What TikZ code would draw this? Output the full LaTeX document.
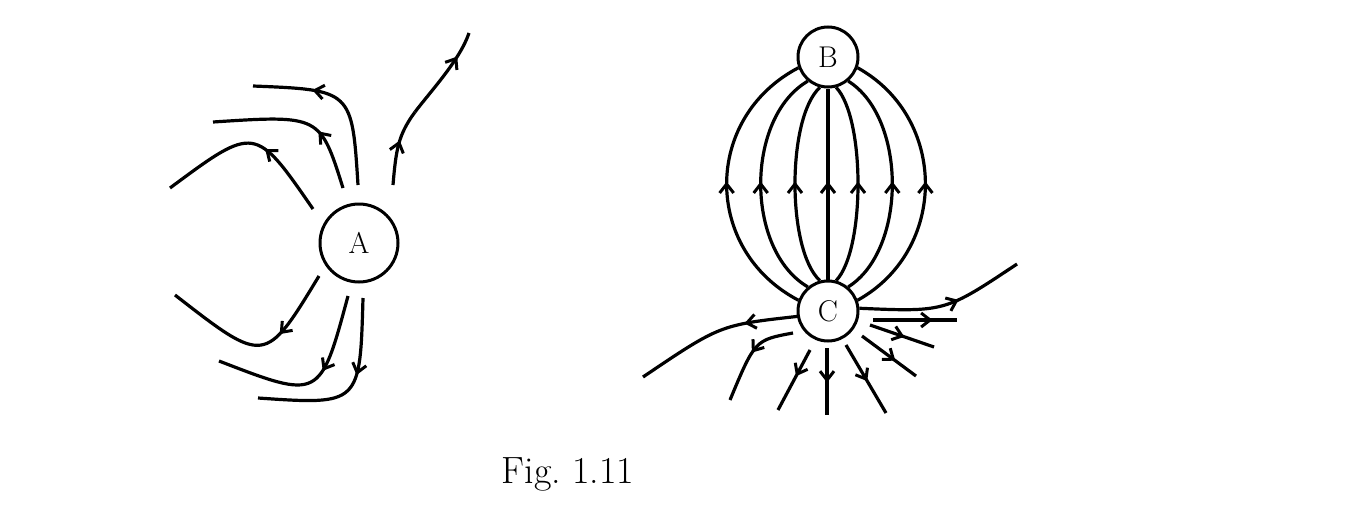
\documentclass[tikz,border=0pt]{standalone}
\usetikzlibrary{decorations.markings}
\begin{document}
\begin{tikzpicture}[x=1pt,y=-1pt,line width=3.2pt,
  ln/.style={draw,line cap=butt},
  mk/.style={postaction={decorate,decoration={markings,mark=at position #1 with {\draw[line width=3pt,line cap=butt,line join=miter] (-9pt,7pt)--(0pt,0pt)--(-9pt,-7pt);}}}},
  chg/.style={draw,circle,inner sep=0pt,line width=3pt,font=\fontsize{30}{30}\selectfont}]
\useasboundingbox (0,0) rectangle (1350,530);
% A
\node[chg,minimum size=78pt] (A) at (359,243) {A};
\draw[ln,mk=.65] (358,185) .. controls (352,90) .. (253,86);
\draw[ln,mk=.35] (343,188) .. controls (320,115) .. (213,122);
\draw[ln,mk=.4] (313,209) .. controls (255,125) .. (170,188);
\draw[ln,mk=.55] (393,185) .. controls (396,150) and (398,135) .. (415,112);
\draw[ln,mk=.7] (415,112) .. controls (430,92) and (460,60) .. (469,33);
\draw[ln,mk=.35] (319,276) .. controls (265,365) .. (175,295);
\draw[ln,mk=.4] (348,296) .. controls (320,400) .. (219,361);
\draw[ln,mk=.4] (363,298) .. controls (360,405) .. (258,398);
% B and C
\node[chg,minimum size=60pt] (B) at (828,57) {B};
\node[chg,minimum size=60pt] (C) at (828,311) {C};
\draw[ln,mk=.5] (C.160) .. controls (702.7,250) and (702.7,118) .. (B.-160);
\draw[ln,mk=.5] (C.130) .. controls (745,250) and (745,118) .. (B.-130);
\draw[ln,mk=.5] (C.105) .. controls (786.7,250) and (786.7,118) .. (B.-105);
\draw[ln,mk=.5] (C.90) -- (B.-90);
\draw[ln,mk=.5] (C.75) .. controls (865.3,250) and (865.3,118) .. (B.-75);
\draw[ln,mk=.5] (C.50) .. controls (907,250) and (907,118) .. (B.-50);
\draw[ln,mk=.5] (C.20) .. controls (948,250) and (948,118) .. (B.-20);
% C outward
\draw[ln,mk=.3] (C.190) .. controls (720,325) .. (643,377);
\draw[ln,mk=.58] (C.5) .. controls (945,312) .. (1017,264);
\coordinate (h1) at (873,320); \coordinate (h2) at (957,320);
\draw[ln,mk=.68] (h1) -- (h2);
\coordinate (r1) at (870,325); \coordinate (r2) at (934,347);
\draw[ln,mk=.5] (r1) -- (r2);
\coordinate (s1) at (862,336); \coordinate (s2) at (916,376);
\draw[ln,mk=.58] (s1) -- (s2);
\coordinate (t1) at (846,345); \coordinate (t2) at (886,413);
\draw[ln,mk=.5] (t1) -- (t2);
\coordinate (v1) at (827,348); \coordinate (v2) at (827,415);
\draw[ln,mk=.48] (v1) -- (v2);
\coordinate (u1) at (810,350); \coordinate (u2) at (778,410);
\draw[ln,mk=.4] (u1) -- (u2);
\coordinate (w1) at (793,333); \coordinate (w2) at (730,400);
\draw[ln,mk=.45] (w1) .. controls (755,340) .. (w2);
\node[font=\fontsize{38}{38}\selectfont] (fig) at (568,474) {Fig.\ 1.11};
\end{tikzpicture}
\end{document}
